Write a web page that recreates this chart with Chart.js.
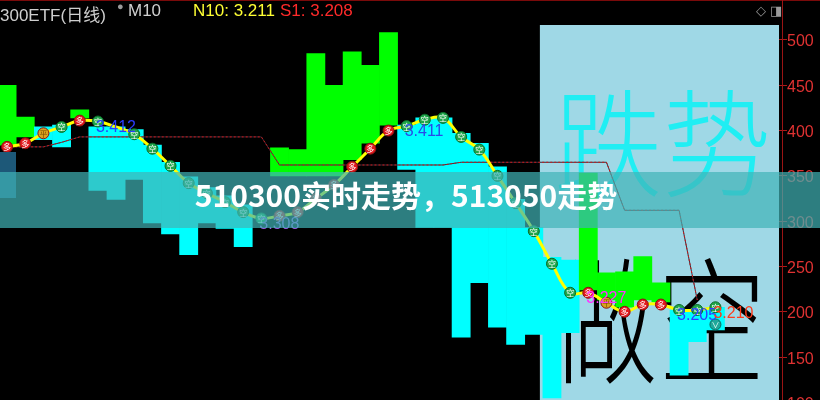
<!DOCTYPE html>
<html>
<head>
<meta charset="utf-8">
<script src="https://cdn.jsdelivr.net/npm/chart.js"></script>
<style>
    body { margin: 0; background: #000; }
    #wrap { position: relative; width: 820px; height: 400px; overflow: hidden; background: #000; }
    #chart { position: absolute; left: -2px; top: 0; }
    .hdr { position: absolute; top: 1px; font: 17px "Liberation Sans", "Noto Sans CJK SC", sans-serif; white-space: nowrap; }
    #topline { position: absolute; left: 0; top: 0; width: 820px; height: 1px; background: #7a0a0a; }
    #axisTop { position: absolute; left: 782px; top: 0; width: 1px; height: 26px; background: #9a1414; }
    #tab { position: absolute; left: 0; top: 152px; width: 16px; height: 46px; background: #1d5878; }
    #band { position: absolute; left: 0; top: 172px; width: 820px; height: 56px; background: rgba(64, 180, 183, 0.7); }
    #bandText { position: absolute; left: 0; top: 172px; width: 812px; height: 56px; line-height: 56px; text-align: center;
        color: #fff; font: bold 30px "Noto Sans CJK SC", sans-serif; }
</style>
</head>
<body>
<div id="wrap">
    <canvas id="chart" width="822" height="412"></canvas>
    <div id="topline"></div>
    <div id="axisTop"></div>
    <div class="hdr" style="left:0;color:#cfcfcf">300ETF(日线)</div>
    <div class="hdr" style="left:117px;top:0;color:#9a9a9a;font-size:11px">●</div>
    <div class="hdr" style="left:128px;color:#cfcfcf">M10</div>
    <div class="hdr" style="left:193px;color:#ffff33">N10: 3.211</div>
    <div class="hdr" style="left:280px;color:#ff2a2a">S1: 3.208</div>
    <div class="hdr" style="left:756px;top:3px;color:#9a9a9a;font:13px 'DejaVu Sans'">◇</div>
    <div class="hdr" style="left:770px;top:3px;color:#9a9a9a;font:13px 'DejaVu Sans'">◨</div>
    <div id="tab"></div>
    <div id="band"></div>
    <div id="bandText">510300实时走势，513050走势</div>
</div>
<script>
// 43 columns, the last three are empty space on the right
const columns = Array.from({ length: 43 }, (_, i) => String(i));

// floating bars: low / high on the right-hand scale, G = green (up), C = cyan (down)
const barLow  = [384, 393, 390, 382, 414, 334, 324, 346, 298, 286, 263, 298, 292, 272, null,
                 350, 350, 350, 350, 368, 386, 406, 357, 293, 293, 172, 232, 183, 164, 175,
                 105, 177, 224, 213, 205, 213, 211, 130, 167, 180, null, null, null];
const barHigh = [450, 415, 404, 406, 423, 404, 404, 401, 384, 365, 349, 337, 328, 318, null,
                 381, 379, 485, 450, 487, 472, 508, 406, 414, 414, 397, 386, 360, 324, 293,
                 260, 257, 353, 243, 244, 261, 232, 202, 202, 205, null, null, null];
const barKind = ['G', 'G', 'C', 'C', 'G', 'C', 'C', 'C', 'C', 'C', 'C', 'C', 'C', 'C', null,
                 'G', 'G', 'G', 'G', 'G', 'G', 'G', 'C', 'C', 'C', 'C', 'C', 'C', 'C', 'C',
                 'C', 'C', 'G', 'G', 'G', 'G', 'G', 'C', 'C', 'C', null, null, null];

// yellow moving average (N10)
const maLine = [382, 386, 397, 404, 411, 410, 404, 396, 380, 361, 342, 331, 321, 310, 303,
                306, 310, 325, 340, 360, 380, 400, 405, 412, 414, 393, 379, 350, 320, 289,
                253, 221, 221, 210, 200, 208, 208, 202, 202, 205, null, null, null];

// signal on each MA point: 多 / 空 / 平
const signals = ['多', '多', '平', '空', '多', '空', null, '空', '空', '空', '空', '空', '空', '空', '空',
                 '多', '多', '多', '多', '多', '多', '多', '空', '空', '空', '空', '空', '空', '空', '空',
                 '空', '空', '多', '平', '多', '多', '多', '空', '空', '空', null, null, null];

// stepped support/resistance line
const stepLine = [382, 382, 382, 387, 393, 393, 393, 393, 393, 393, 393, 393, 393, 393, 393,
                  362, 362, 362, 362, 362, 362, 362, 362, 362, 362, 365, 365, 365, 365, 365,
                  365, 365, 365, 365, 312, 312, 312, 312, 213, null, null, null, null];

// extra "∨" marker under the last bar
const extraMark = [null, null, null, null, null, null, null, null, null, null, null, null, null, null, null,
                   null, null, null, null, null, null, null, null, null, null, null, null, null, null, null,
                   null, null, null, null, null, null, null, null, null, 186, null, null, null];

// value tags on the MA
const tagIndex = [5, 22, 14, 32, 37, 39];
const tagText = ['3.412', '3.411', '3.308', '3.227', '3.205', '3.210'];
const tagColor = ['#2a3cff', '#2a48e8', '#9a5ce6', '#ff30ff', '#2a40ff', '#ff3a1a'];

const yTicks = [100, 150, 200, 250, 300, 350, 400, 450, 500];
const panelStart = 30;

const sigColor = { '多': '#e3191e', '空': '#1fa64a', '平': '#d9a21e' };

const backdrop = {
    id: 'backdrop',
    beforeDatasetsDraw(chart) {
        const { ctx, chartArea, scales: { x } } = chart;
        const left = (x.getPixelForValue(panelStart - 1) + x.getPixelForValue(panelStart)) / 2 - 3;
        ctx.save();
        ctx.fillStyle = '#9fd8e6';
        ctx.fillRect(left, chartArea.top, chartArea.right - left, chartArea.bottom - chartArea.top);
        ctx.textBaseline = 'top';
        ctx.save();
        ctx.translate(left + 14, chartArea.top + 60);
        ctx.scale(0.97, 1.04);
        ctx.font = '300 112px "Noto Sans CJK SC"';
        ctx.fillStyle = '#20eef3';
        ctx.fillText('跌势', 0, 0);
        ctx.restore();
        ctx.save();
        ctx.translate(left + 8, chartArea.top + 228);
        ctx.scale(0.88, 1.1);
        ctx.font = '300 124px "Noto Sans CJK SC"';
        ctx.fillStyle = '#000';
        ctx.fillText('做空', 0, 0);
        ctx.restore();
        // axis line sits a few pixels right of the plot
        ctx.strokeStyle = '#9a1414';
        ctx.beginPath();
        ctx.moveTo(chartArea.right + 3.5, 0);
        ctx.lineTo(chartArea.right + 3.5, chart.height);
        ctx.stroke();
        ctx.restore();
    }
};

const marks = {
    id: 'marks',
    afterDatasetsDraw(chart) {
        const ctx = chart.ctx;
        const pts = chart.getDatasetMeta(0).data;
        ctx.save();
        ctx.textAlign = 'center';
        ctx.textBaseline = 'middle';
        ctx.font = '8px "Noto Sans CJK SC"';
        signals.forEach((s, i) => {
            if (!s || maLine[i] == null) return;
            ctx.fillStyle = s === '平' ? '#7a4a00' : '#ffffff';
            ctx.fillText(s, pts[i].x, pts[i].y + 0.5);
        });
        const ex = chart.getDatasetMeta(4).data;
        extraMark.forEach((v, i) => {
            if (v == null) return;
            ctx.fillStyle = '#e8fff8';
            ctx.fillText('∨', ex[i].x, ex[i].y);
        });
        ctx.font = '16px "Liberation Sans"';
        ctx.textAlign = 'left';
        tagIndex.forEach((idx, k) => {
            ctx.fillStyle = tagColor[k];
            ctx.fillText(tagText[k], pts[idx].x - 2, pts[idx].y + 6);
        });
        ctx.restore();
    }
};

new Chart(document.getElementById('chart'), {
    type: 'bar',
    data: {
        labels: columns,
        datasets: [{
            type: 'line',
            data: maLine,
            borderColor: '#ffff00',
            borderWidth: 3,
            tension: 0.4,
            pointRadius: signals.map(s => s ? 5.5 : 0),
            pointBackgroundColor: signals.map(s => sigColor[s] || 'transparent'),
            pointBorderColor: signals.map(s => s === '空' ? '#0b6b2a' : '#8a1010'),
            pointBorderWidth: 1,
            order: 0
        }, {
            type: 'line',
            data: stepLine,
            borderColor: '#d01818',
            borderWidth: 1,
            borderDash: [2, 2],
            pointRadius: 0,
            order: 1
        }, {
            type: 'line',
            data: stepLine,
            borderColor: '#3a2a3a',
            borderWidth: 1,
            pointRadius: 0,
            order: 2
        }, {
            data: barLow.map((lo, i) => lo == null ? null : [lo, barHigh[i]]),
            backgroundColor: barKind.map(k => k === 'G' ? '#00ff00' : '#00ffff'),
            borderWidth: 0,
            categoryPercentage: 1,
            barPercentage: 1,
            order: 3
        }, {
            type: 'line',
            data: extraMark,
            showLine: false,
            pointRadius: 5.5,
            pointBackgroundColor: '#1fa89a',
            pointBorderColor: '#0d6a60',
            pointBorderWidth: 1,
            order: 0
        }]
    },
    options: {
        responsive: false,
        animation: false,
        layout: { autoPadding: false, padding: { top: 25, bottom: 9, left: 0 } },
        plugins: { legend: { display: false }, tooltip: { enabled: false } },
        scales: {
            x: { display: false },
            y: {
                position: 'right',
                min: 100,
                max: 516.5,
                afterBuildTicks: s => { s.ticks = yTicks.map(v => ({ value: v })); },
                afterFit: s => { s.width = 41; },
                ticks: { color: '#e03232', font: { family: 'Liberation Sans', size: 16 }, padding: 0, labelOffset: 2 },
                grid: { drawOnChartArea: false, drawTicks: true, tickLength: 8, color: '#b01818' },
                border: { display: false }
            }
        }
    },
    plugins: [backdrop, marks]
});
</script>
</body>
</html>
